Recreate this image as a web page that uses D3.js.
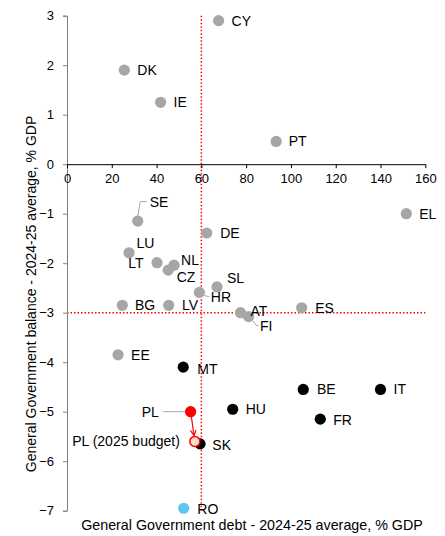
<!DOCTYPE html>
<html>
<head>
<meta charset="utf-8">
<script src="https://cdn.jsdelivr.net/npm/d3@7"></script>
<style>
  html, body { margin: 0; padding: 0; background: #fff; }
  svg { display: block; font-family: "Liberation Sans", Arial, sans-serif; }
</style>
</head>
<body>
<svg id="chart" width="445" height="536"></svg>
<script>
// ---- data ----
const countries = ["CY","DK","IE","PT","SE","EL","DE","LU","LT","NL","CZ","SL","HR","BG","LV","AT","FI","ES","EE","MT","BE","IT","HU","FR","SK","RO","PL","PL (2025 budget)"];
const debt      = [67.7, 25.6, 41.8, 93.4, 31.6, 151.5, 62.4, 27.7, 40.2, 47.8, 45.2, 67.0, 59.1, 24.7, 45.4, 77.5, 81.1, 104.8, 22.8, 51.9, 105.5, 140.0, 74.0, 113.1, 59.4, 52.1, 55.2, 57.1];
const balance   = [2.9, 1.9, 1.25, 0.46, -1.15, -1.0, -1.39, -1.79, -1.99, -2.04, -2.14, -2.48, -2.59, -2.85, -2.85, -3.0, -3.08, -2.9, -3.85, -4.1, -4.55, -4.55, -4.95, -5.15, -5.65, -6.95, -5.0, -5.6];
const group     = ["ok","ok","ok","ok","ok","ok","ok","ok","ok","ok","ok","ok","ok","ok","ok","ok","ok","ok","ok","edp","edp","edp","edp","edp","edp","ro","pl","pl25"];
const xTicks = [0, 20, 40, 60, 80, 100, 120, 140, 160];
const yTicks = [3, 2, 1, 0, -1, -2, -3, -4, -5, -6, -7];
const debtLimit = 60;
const deficitLimit = -3;
const xTitle = "General Government debt - 2024-25 average, % GDP";
const yTitle = "General Government balance - 2024-25 average, % GDP";

// ---- styles / layout ----
const fillColor = { ok: "#A6A6A6", edp: "#000000", ro: "#5BC8F5", pl: "#FF0000", pl25: "#F9DCD2" };
const strokeColor = { ok: "none", edp: "none", ro: "none", pl: "none", pl25: "#FF0000" };
// label offsets relative to point: [dx, dy, anchor]
const labelPos = {
  "CY": [13, 0, "start"], "DK": [13, 0, "start"], "IE": [13, 0, "start"], "PT": [12.5, 0, "start"],
  "SE": [12, -19, "start"], "EL": [13, 0, "start"], "DE": [13.5, 0, "start"], "LU": [7.5, -9.5, "start"],
  "LT": [-13.5, 0.5, "end"], "NL": [7, -5.5, "start"], "CZ": [8.5, 6.5, "start"], "SL": [10, -9, "start"],
  "HR": [11.5, 4.6, "start"], "BG": [12.7, 0, "start"], "LV": [13.3, 0, "start"], "AT": [10, -2, "start"],
  "FI": [11.3, 9, "start"], "ES": [13.5, 0, "start"], "EE": [13, 0.5, "start"], "MT": [14, 1.7, "start"],
  "BE": [13.7, 0, "start"], "IT": [13, 0, "start"], "HU": [13, 0, "start"], "FR": [13, 0.7, "start"],
  "SK": [12.3, 1.3, "start"], "RO": [13.6, 0.7, "start"], "PL": [-31.7, 0, "end"], "PL (2025 budget)": [-15, -0.6, "end"]
};

const svg = d3.select("#chart");
const mLeft = 67, mRight = 425.3, mTop = 15.7, mBottom = 510.7;

const x = d3.scaleLinear().domain([0, 160]).range([mLeft, mRight]);
const y = d3.scaleLinear().domain([-7, 3]).range([mBottom, mTop]);

const data = countries.map((c, i) => ({ c, x: debt[i], y: balance[i], g: group[i] }));

// reference lines (behind points)
svg.append("line")
  .attr("x1", x(debtLimit)).attr("x2", x(debtLimit))
  .attr("y1", y(3)).attr("y2", y(-7))
  .attr("stroke", "#FF0000").attr("stroke-width", 1.5).attr("stroke-dasharray", "1.5,2");
svg.append("line")
  .attr("x1", x(0)).attr("x2", x(160))
  .attr("y1", y(deficitLimit)).attr("y2", y(deficitLimit))
  .attr("stroke", "#FF0000").attr("stroke-width", 1.5).attr("stroke-dasharray", "1.5,2");

// y axis
const yAxis = svg.append("g").attr("transform", `translate(${x(0)},0)`)
  .call(d3.axisLeft(y).tickValues(yTicks).tickSize(4).tickFormat(d3.format("d")).tickPadding(9));
yAxis.select(".domain").attr("stroke", "#808080").attr("stroke-width", 1);
yAxis.selectAll(".tick line").attr("stroke", "#808080");
yAxis.selectAll("text").attr("font-size", 13).attr("fill", "#000")
  .attr("font-family", "Liberation Sans, Arial, sans-serif");

// x axis at y=0
const xAxis = svg.append("g").attr("transform", `translate(0,${y(0)})`)
  .call(d3.axisBottom(x).tickValues(xTicks).tickSize(4).tickSizeOuter(0).tickPadding(6));
xAxis.select(".domain").attr("stroke", "#000").attr("stroke-width", 1);
xAxis.selectAll(".tick line").attr("stroke", "#000");
xAxis.selectAll("text").attr("font-size", 13).attr("fill", "#000")
  .attr("font-family", "Liberation Sans, Arial, sans-serif");

// titles
svg.append("text").attr("x", 252).attr("y", 530).attr("text-anchor", "middle")
  .attr("font-size", 14.3).attr("fill", "#000").text(xTitle);
svg.append("text").attr("transform", "translate(36,294) rotate(-90)").attr("text-anchor", "middle")
  .attr("font-size", 14).attr("fill", "#000").text(yTitle);

const P = name => data.find(d => d.c === name);

// leader lines
const lead = svg.append("g").attr("stroke", "#A6A6A6").attr("stroke-width", 1).attr("fill", "none");
{
  const se = P("SE"), sx = x(se.x), sy = y(se.y);
  lead.append("path").attr("d", `M${sx},${sy - 5}L${sx + 2.5},${sy - 19.5}L${sx + 9},${sy - 19.5}`);
  const fi = P("FI"), fx = x(fi.x), fy = y(fi.y);
  lead.append("path").attr("d", `M${fx + 4},${fy + 4}L${fx + 8},${fy + 9}L${fx + 10},${fy + 9}`);
  const pl = P("PL"), px = x(pl.x), py = y(pl.y);
  lead.append("path").attr("d", `M${px - 27.5},${py}L${px - 5},${py}`);
  const hr = P("HR"), hx = x(hr.x), hy = y(hr.y);
  lead.append("path").attr("d", `M${hx + 5},${hy + 3}L${hx + 10},${hy + 4.5}`);
}

// points
const order = ["ok", "ro", "edp", "pl", "pl25"];
const sorted = data.slice().sort((a, b) => order.indexOf(a.g) - order.indexOf(b.g));
svg.append("g").selectAll("circle").data(sorted).join("circle")
  .attr("cx", d => x(d.x)).attr("cy", d => y(d.y))
  .attr("r", d => d.g === "pl25" ? 5 : 5.6)
  .attr("fill", d => fillColor[d.g])
  .attr("stroke", d => strokeColor[d.g])
  .attr("stroke-width", 1.5);

// arrow PL -> PL 2025
{
  const a = P("PL"), b = P("PL (2025 budget)");
  const x1 = x(a.x), y1 = y(a.y), x2 = x(b.x), y2 = y(b.y);
  const ang = Math.atan2(y2 - y1, x2 - x1);
  const ex = x2 - Math.cos(ang) * 6, ey = y2 - Math.sin(ang) * 6;
  const g = svg.append("g").attr("stroke", "#FF0000").attr("stroke-width", 1.2).attr("fill", "none");
  g.append("line").attr("x1", x1).attr("y1", y1).attr("x2", ex).attr("y2", ey);
  const L = 6, w = 0.5;
  g.append("path").attr("d",
    `M${ex - L * Math.cos(ang - w)},${ey - L * Math.sin(ang - w)}L${ex},${ey}L${ex - L * Math.cos(ang + w)},${ey - L * Math.sin(ang + w)}`);
}

// labels
svg.append("g").selectAll("text").data(data).join("text")
  .attr("x", d => x(d.x) + labelPos[d.c][0])
  .attr("y", d => y(d.y) + labelPos[d.c][1])
  .attr("dy", "0.36em")
  .attr("text-anchor", d => labelPos[d.c][2])
  .attr("font-size", 14).attr("fill", "#000")
  .text(d => d.c);
</script>
</body>
</html>
